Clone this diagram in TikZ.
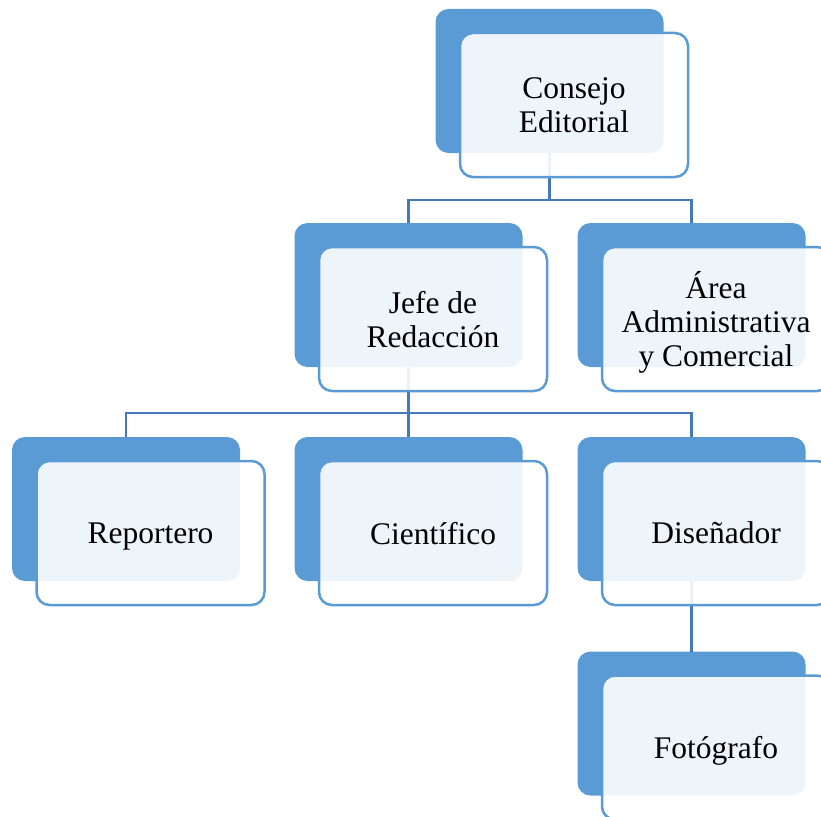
\documentclass[tikz,border=0pt]{standalone}
\usepackage{fontspec}
\setmainfont{Liberation Serif}
\usepackage{tikz}
\usetikzlibrary{calc,positioning}
\definecolor{orgblue}{RGB}{91,155,213}
\definecolor{orglink}{RGB}{70,122,182}
\tikzset{
	org chart/.style={x=1pt, y=1pt,
		font=\fontsize{31.5}{34}\selectfont},
	org back/.style={fill=orgblue, rounded corners=13pt,
		minimum width=228pt, minimum height=144pt,
		inner sep=0pt, outer sep=0pt},
	org front/.style={draw=orgblue, line width=2.5pt, fill=white,
		fill opacity=.9, text opacity=1, rounded corners=13pt,
		minimum width=228pt, minimum height=144pt, text depth=0pt,
		inner sep=0pt, outer sep=0pt, align=center},
	org link/.style={draw=orglink, line width=2.7pt},
	org shift/.store in=\orgshift,
	org shift={(24.5,-24)}
}

\begin{document}
\begin{tikzpicture}[org chart]
	\useasboundingbox (0,0) rectangle (821,-816);
	% back boxes
	\node[org back] (consejo) at (549.5,-81) {};
	\node[org back] (jefe) at (408.5,-295) {};
	\node[org back] (area) at (691.5,-295) {};
	\node[org back] (reportero) at (126,-509) {};
	\node[org back] (cientifico) at (408.5,-509) {};
	\node[org back] (disenador) at (691.5,-509) {};
	\node[org back] (fotografo) at (691.5,-723.5) {};
	% links
	\coordinate (bus1) at ($(consejo.south)+(0,-47)$);
	\coordinate (bus2) at ($(jefe.south)+(0,-46)$);
	\draw[org link] (consejo.south) -- (bus1) -| (jefe.north);
	\draw[org link] (bus1) -| (area.north);
	\draw[org link] (jefe.south) -- (bus2) -| (reportero.north);
	\draw[org link] (bus2) -- (cientifico.north);
	\draw[org link] (bus2) -| (disenador.north);
	\draw[org link] (disenador.south) -- (fotografo.north);
	% front boxes
	\foreach \n/\t in {consejo/{Consejo\\Editorial}, jefe/{Jefe de\\Redacción},
		area/{Área\\Administrativa\\y Comercial}, reportero/Reportero,
		cientifico/Científico, disenador/Diseñador, fotografo/Fotógrafo}
		\node[org front] (\n-front) at ([shift=\orgshift]\n) {\t};
\end{tikzpicture}
\end{document}
